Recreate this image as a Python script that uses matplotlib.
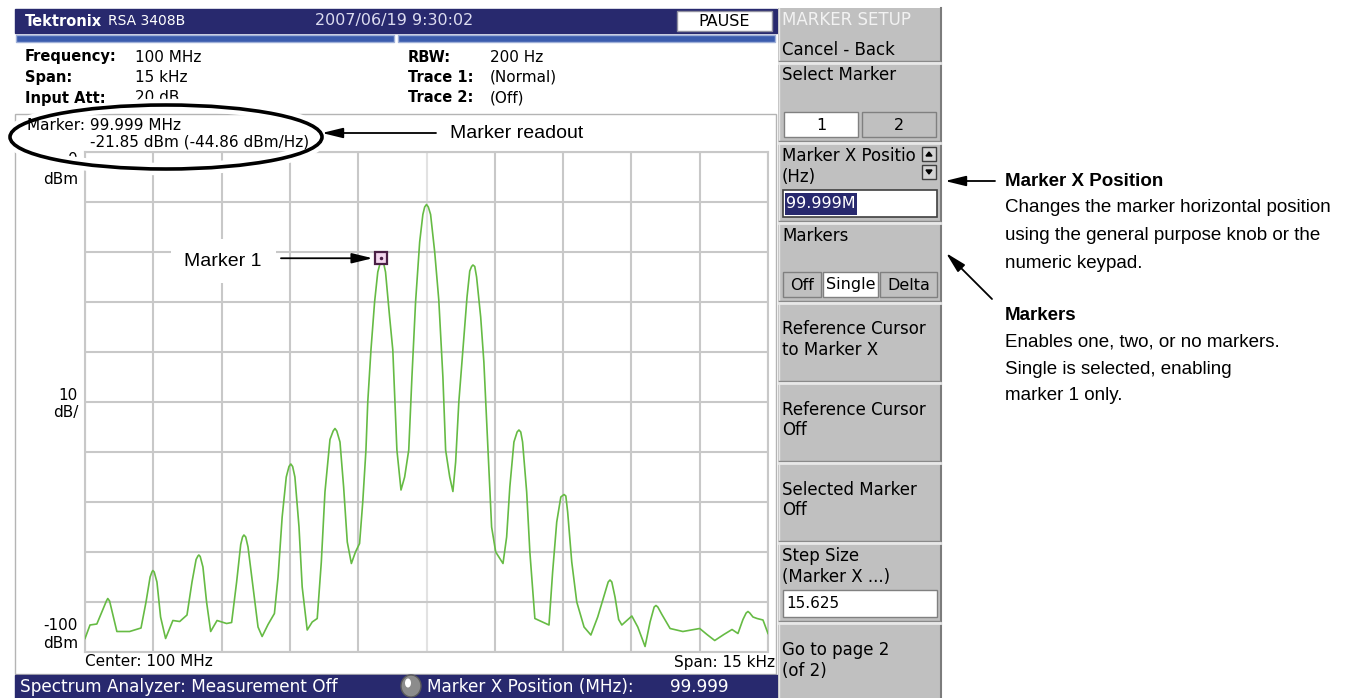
import matplotlib.pyplot as plt
from matplotlib.patches import Rectangle, Ellipse
import numpy as np

# trace: offset from center (kHz) and level (dBm)
freq_khz = [-7.50, -7.39, -7.24, -7.13, -7.03, -7.00, -6.96, -6.89, -6.80, -6.52,
            -6.27, -6.16, -6.07, -6.03, -6.01, -5.98, -5.92, -5.84, -5.73, -5.57,
            -5.42, -5.26, -5.15, -5.06, -5.02, -5.00, -4.97, -4.91, -4.83, -4.74,
            -4.60, -4.39, -4.28, -4.17, -4.08, -4.04, -4.01, -3.97, -3.92, -3.81,
            -3.70, -3.61, -3.48, -3.34, -3.26, -3.17, -3.08, -3.02, -2.98, -2.94,
            -2.89, -2.80, -2.73, -2.62, -2.51, -2.40, -2.31, -2.23, -2.12, -2.05,
            -2.01, -1.97, -1.90, -1.82, -1.74, -1.65, -1.56, -1.47, -1.40, -1.33,
            -1.29, -1.22, -1.14, -1.07, -1.02, -0.98, -0.94, -0.90, -0.81, -0.74,
            -0.65, -0.56, -0.48, -0.39, -0.32, -0.24, -0.15, -0.08, -0.04, 0.00,
            0.04, 0.09, 0.18, 0.27, 0.36, 0.42, 0.51, 0.58, 0.64, 0.71,
            0.80, 0.89, 0.95, 0.99, 1.02, 1.06, 1.10, 1.19, 1.26, 1.35,
            1.43, 1.52, 1.68, 1.76, 1.83, 1.92, 1.99, 2.03, 2.07, 2.11,
            2.20, 2.27, 2.38, 2.69, 2.77, 2.86, 2.95, 2.99, 3.02, 3.06,
            3.10, 3.19, 3.30, 3.46, 3.61, 3.76, 3.89, 3.99, 4.03, 4.07,
            4.14, 4.22, 4.29, 4.51, 4.64, 4.80, 4.91, 5.00, 5.04, 5.08,
            5.17, 5.35, 5.63, 6.00, 6.16, 6.33, 6.53, 6.71, 6.84, 6.95,
            7.02, 7.06, 7.10, 7.17, 7.26, 7.39, 7.50]
level_dbm = [-97.3, -94.6, -94.4, -92.0, -89.8, -89.3, -89.8, -92.5, -95.9, -95.9,
             -95.2, -90.0, -85.0, -84.0, -83.7, -84.0, -86.0, -93.0, -97.3, -93.7,
             -93.9, -92.6, -86.0, -81.5, -80.8, -80.6, -80.9, -83.0, -90.0, -95.9,
             -93.7, -94.3, -94.1, -86.0, -78.5, -77.0, -76.6, -77.0, -79.0, -87.0,
             -95.0, -96.9, -94.5, -92.3, -85.0, -73.0, -65.0, -62.9, -62.4, -62.9,
             -65.0, -75.0, -87.0, -95.6, -94.0, -93.3, -82.0, -68.0, -57.5, -55.8,
             -55.3, -55.8, -58.0, -67.0, -78.0, -82.3, -80.0, -78.3, -70.0, -59.6,
             -50.0, -39.6, -30.0, -24.0, -22.3, -21.9, -22.3, -24.0, -33.0, -39.6,
             -59.6, -67.6, -65.0, -59.6, -45.0, -30.0, -18.0, -12.5, -11.0, -10.5,
             -11.0, -12.5, -20.0, -29.6, -45.0, -59.6, -65.0, -67.9, -62.0, -50.0,
             -39.6, -29.0, -23.8, -22.9, -22.6, -22.9, -25.0, -33.0, -42.0, -59.6,
             -75.0, -80.0, -82.3, -77.0, -67.0, -58.0, -56.0, -55.6, -56.0, -58.0,
             -68.0, -80.0, -93.3, -94.6, -84.0, -74.0, -69.0, -68.7, -68.5, -68.8,
             -72.0, -82.0, -90.0, -95.0, -96.6, -93.0, -89.0, -86.0, -85.6, -86.0,
             -89.0, -93.5, -94.6, -92.8, -95.0, -98.9, -94.0, -91.0, -90.7, -91.0,
             -92.5, -95.3, -95.9, -95.3, -96.5, -97.7, -96.5, -95.5, -96.3, -93.5,
             -92.2, -91.9, -92.2, -93.0, -93.3, -93.6, -96.3]

span_khz = 15
ref_dbm = 0
db_div = 10
marker_khz = -1.0
marker_dbm = -21.85

params_left = [('Frequency:', '100 MHz'), ('Span:', '15 kHz'), ('Input Att:', '20 dB')]
params_right = [('RBW:', '200 Hz'), ('Trace 1:', '(Normal)'), ('Trace 2:', '(Off)')]

navy = '#28296e'
green = '#66bb44'
gridc = '#c8c8c8'
panel = '#c0c0c0'
scr = 'DejaVu Sans'
ann = ['Liberation Sans', 'DejaVu Sans']

fig = plt.figure(figsize=(13.51, 6.98), dpi=100)
W, H = 1351, 698

# ---- spectrum plot
ax = fig.add_axes([85 / W, (H - 652) / H, 683 / W, 500 / H])
ax.plot(freq_khz, level_dbm, color=green, lw=1.2, zorder=3)
ax.set_xlim(-span_khz / 2, span_khz / 2)
ax.set_ylim(ref_dbm - 10 * db_div, ref_dbm)
ax.set_xticks(np.linspace(-span_khz / 2, span_khz / 2, 11))
ax.set_yticks(np.arange(ref_dbm - 10 * db_div, ref_dbm + 1, db_div))
ax.grid(True, color=gridc, lw=1.5)
ax.get_xgridlines()[5].set_color('#e2e2e2')
ax.tick_params(length=0, labelbottom=False, labelleft=False)
for s in ax.spines.values():
    s.set_color(gridc)
    s.set_linewidth(1.5)

# marker
ax.plot([marker_khz], [marker_dbm + 0.6], marker='s', ms=9, mfc='#f3d6ee',
        mec='#4a1f45', mew=1.6, zorder=4)
ax.plot([marker_khz], [marker_dbm + 0.6], marker='.', ms=3, color='#4a1f45', zorder=5)
ax.annotate('', xy=(marker_khz, marker_dbm + 0.6), xytext=(-100, 0),
            textcoords='offset pixels',
            arrowprops=dict(arrowstyle='-|>,head_length=0.9,head_width=0.22',
                            color='black', lw=1.3, shrinkA=0, shrinkB=6,
                            mutation_scale=14), zorder=6)

# ---- overlay in pixel coords
ui = fig.add_axes([0, 0, 1, 1], zorder=10)
ui.set_xlim(0, W)
ui.set_ylim(H, 0)
ui.axis('off')
ui.patch.set_alpha(0)

# top bar
ui.add_patch(Rectangle((15, 9), 762, 24, color=navy))
ui.text(25, 21, 'Tektronix', color='white', fontsize=10.5, fontweight='bold',
        family=scr, va='center')
ui.text(108, 21, 'RSA 3408B', color='white', fontsize=10, family=scr, va='center')
ui.text(315, 21, '2007/06/19 9:30:02', color='#dcdcf0', fontsize=11.5, family=scr,
        va='center')
ui.add_patch(Rectangle((677, 11), 95, 20, fc='white', ec='#9090a0', lw=1))
ui.text(724, 21, 'PAUSE', color='black', fontsize=11.5, family=scr, va='center',
        ha='center')
ui.add_patch(Rectangle((16, 35), 378, 7, fc='#3b5cae', ec='#9fb0d8', lw=1))
ui.add_patch(Rectangle((398, 35), 377, 7, fc='#3b5cae', ec='#9fb0d8', lw=1))

# settings
for i, (k, v) in enumerate(params_left):
    y = 57 + i * 20.5
    ui.text(25, y, k, fontsize=10.5, family=scr, fontweight='bold', va='center')
    ui.text(135, y, v, fontsize=11, family=scr, va='center', zorder=0.5)
for i, (k, v) in enumerate(params_right):
    y = 57 + i * 20.5
    ui.text(408, y, k, fontsize=10.5, family=scr, fontweight='bold', va='center')
    ui.text(490, y, v, fontsize=11, family=scr, va='center')

# panel frame
ui.add_patch(Rectangle((15, 114), 761, 560, fill=False, ec='#b4b4b4', lw=1))

# y labels
ui.text(78, 160, '0', fontsize=11, family=scr, ha='right', va='center', zorder=0.5)
ui.text(78, 180, 'dBm', fontsize=11, family=scr, ha='right', va='center')
ui.text(78, 395, '10', fontsize=11, family=scr, ha='right', va='center')
ui.text(78, 412, 'dB/', fontsize=11, family=scr, ha='right', va='center')
ui.text(78, 626, '-100', fontsize=11, family=scr, ha='right', va='center')
ui.text(78, 643, 'dBm', fontsize=11, family=scr, ha='right', va='center')
ui.text(85, 662, 'Center: 100 MHz', fontsize=11, family=scr, va='center')
ui.text(775, 662, 'Span: 15 kHz', fontsize=11, family=scr, va='center', ha='right')

# marker readout
ui.text(27, 126, 'Marker: 99.999 MHz', fontsize=11, family=scr, va='center')
ui.text(90, 142, '-21.85 dBm (-44.86 dBm/Hz)', fontsize=11, family=scr, va='center')
ui.add_patch(Ellipse((166, 137), 312, 64, fill=False, ec='white', lw=9, zorder=2))
ui.add_patch(Ellipse((166, 137), 312, 64, fill=False, ec='black', lw=2.6, zorder=2.1))
ui.annotate('', xy=(322, 133), xytext=(436, 133),
            arrowprops=dict(arrowstyle='-|>,head_length=0.9,head_width=0.22',
                            color='black', lw=1.3, shrinkA=0, shrinkB=0,
                            mutation_scale=14))
ui.text(450, 133, 'Marker readout', fontsize=14, family=ann, va='center')
ui.text(262, 261, 'Marker 1', fontsize=14, family=ann, va='center', ha='right',
        bbox=dict(fc='white', ec='none', pad=10))

# status bar
ui.add_patch(Rectangle((15, 675), 765, 23, color=navy))
ui.text(20, 687, 'Spectrum Analyzer: Measurement Off', color='white', fontsize=12.2,
        family=scr, va='center')
ui.add_patch(Ellipse((411, 686), 20, 22, fc='#8c8c8c', ec='#5a5a5a', lw=1))
ui.add_patch(Ellipse((408, 683), 6, 9, fc='white', ec='none'))
ui.text(427, 687, 'Marker X Position (MHz):', color='white', fontsize=12.2,
        family=scr, va='center')
ui.text(670, 687, '99.999', color='white', fontsize=12.2, family=scr, va='center')

# softkey panel
ui.add_patch(Rectangle((778, 8), 164, 690, fc=panel, ec='none'))
ui.plot([941, 941], [8, 698], color='#7c7c7c', lw=1.5)
ui.plot([779, 779], [8, 698], color='#e6e6e6', lw=1)
for y in [62, 142, 222, 302, 382, 462, 542, 622]:
    ui.plot([779, 940], [y - 1, y - 1], color='#8a8a8a', lw=1)
    ui.plot([779, 940], [y + 1, y + 1], color='#e8e8e8', lw=2)

keys = [(20, 'MARKER SETUP'), (50, 'Cancel - Back'), (75, 'Select Marker'),
        (156, 'Marker X Positio'), (177, '(Hz)'), (236, 'Markers'),
        (329, 'Reference Cursor'), (350, 'to Marker X'),
        (410, 'Reference Cursor'), (430, 'Off'),
        (490, 'Selected Marker'), (510, 'Off'),
        (556, 'Step Size'), (577, '(Marker X ...)'),
        (650, 'Go to page 2'), (671, '(of 2)')]
for y, t in keys:
    c = '#f2f2f2' if t == 'MARKER SETUP' else 'black'
    ui.text(782, y, t, fontsize=12, family=scr, va='center', color=c)

# select marker buttons
ui.add_patch(Rectangle((784, 112), 74, 25, fc='white', ec='#808080', lw=1))
ui.add_patch(Rectangle((862, 112), 74, 25, fc=panel, ec='#808080', lw=1))
ui.text(821, 125, '1', fontsize=11.5, family=scr, ha='center', va='center')
ui.text(899, 125, '2', fontsize=11.5, family=scr, ha='center', va='center')

# scroll arrows
for y0, up in [(147, True), (165, False)]:
    ui.add_patch(Rectangle((922, y0), 14, 14, fc='#d4d4d4', ec='#404040', lw=1,
                           zorder=4))
    tri = [y0 + 5, y0 + 9] if up else [y0 + 9, y0 + 5]
    ui.fill([926, 932, 929], [tri[1], tri[1], tri[0]], color='black', zorder=5)

# value box
ui.add_patch(Rectangle((783, 190), 154, 27, fc='white', ec='#404040', lw=1.2))
ui.add_patch(Rectangle((785, 193), 72, 22, fc=navy, ec='none'))
ui.text(786, 204, '99.999M', color='white', fontsize=11.5, family=scr, va='center')

# markers buttons
for x0, w, t, fc in [(783, 38, 'Off', panel), (823, 55, 'Single', 'white'),
                     (880, 57, 'Delta', panel)]:
    ui.add_patch(Rectangle((x0, 272), w, 25, fc=fc, ec='#808080', lw=1))
    ui.text(x0 + w / 2, 285, t, fontsize=11.5, family=scr, ha='center', va='center')

# step size box
ui.add_patch(Rectangle((783, 590), 154, 27, fc='white', ec='#808080', lw=1))
ui.text(786, 604, '15.625', fontsize=11, family=scr, va='center')

# callouts on the right
arrow = dict(arrowstyle='-|>,head_length=0.9,head_width=0.22', color='black',
             lw=1.3, shrinkA=0, shrinkB=0, mutation_scale=14)
ui.annotate('', xy=(945, 181), xytext=(995, 181), arrowprops=arrow)
ui.annotate('', xy=(946, 253), xytext=(992, 299), arrowprops=arrow)
ui.text(1005, 181, 'Marker X Position', fontsize=13.5, family=ann, fontweight='bold',
        va='center')
for i, t in enumerate(['Changes the marker horizontal position',
                       'using the general purpose knob or the',
                       'numeric keypad.']):
    ui.text(1005, 208 + i * 27.5, t, fontsize=13.5, family=ann, va='center')
ui.text(1005, 315, 'Markers', fontsize=13.5, family=ann, fontweight='bold', va='center')
for i, t in enumerate(['Enables one, two, or no markers.',
                       'Single is selected, enabling',
                       'marker 1 only.']):
    ui.text(1005, 342 + i * 27, t, fontsize=13.5, family=ann, va='center')

fig.savefig('out.png', dpi=100)
